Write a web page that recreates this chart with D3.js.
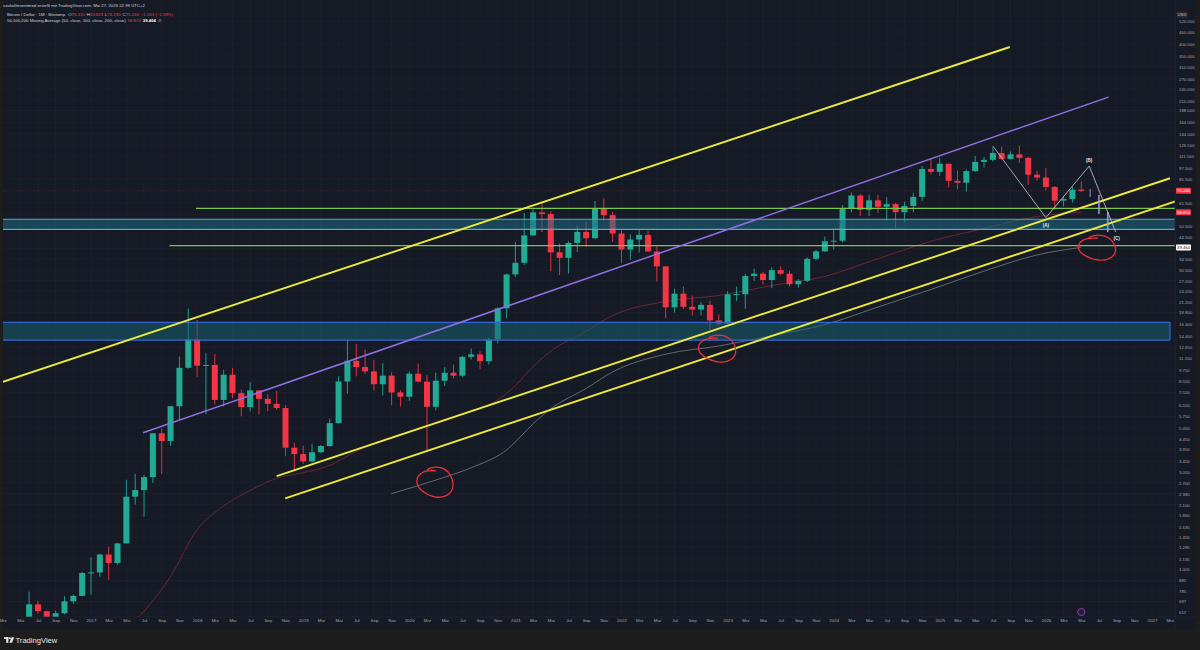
<!DOCTYPE html>
<html><head><meta charset="utf-8">
<script src="https://cdn.jsdelivr.net/npm/d3@7"></script>
<style>
html,body{margin:0;padding:0;background:#1e1e1e;}
svg{display:block;font-family:"Liberation Sans",Arial,sans-serif;}
</style></head><body>
<svg id="c" width="1200" height="650"></svg>
<script>
// ---------------- DATA ----------------
const firstYear = 2016; // first candle = Jan 2016, one candle per month
const open = [
 430,369,437,416,448,531,674,624,573,609,698,742,
 963,970,1190,1080,1350,2300,2480,2875,4740,4340,6450,10000,
 13860,10250,10330,6930,9240,7490,6390,7730,7020,6630,6320,4020,
 3740,3440,3820,4100,5320,8560,10830,10090,9600,8290,9150,7550,
 7190,9350,8540,6410,8630,9450,9140,11330,11650,10780,13800,19700,
 28990,33110,45240,58800,57720,37300,35040,41490,47100,43820,61300,57000,
 46200,38480,43180,45530,37650,31790,19930,23300,20050,19420,20490,17160,
 16530,23130,23140,28470,29250,27210,30470,29230,25940,26970,34650,37720,
 42270,42580,61130,71290,60640,67490,62690,64620,58970,63300,70200,96400,
 93400,102400,84300,82500,94200,104600,107100,115700,108200,114000,109500,90400,
 87500,78600,67200,68500,76310];
const high = [
 462,448,441,467,550,779,704,626,627,739,755,975,
 1153,1200,1300,1355,2790,2980,2950,4750,5000,6470,11400,19666,
 17250,11800,11700,9750,10000,7780,8500,7750,7410,7680,6550,4250,
 4110,4210,4140,5600,9090,13880,13150,12330,10950,10540,9510,7750,
 9580,10500,9190,9460,10080,10390,11440,12470,12070,14100,19950,29300,
 41950,58350,61780,64900,59500,41300,42300,50500,52900,67000,69000,59100,
 47990,45800,48200,47440,40000,31980,24670,25200,22800,21080,21480,18390,
 23960,25250,29200,31000,29820,31430,31800,30200,27500,35200,38400,44700,
 48970,64000,73800,72800,71950,72000,70000,65600,66500,73600,99800,108300,
 109600,102500,95000,95800,112000,110500,123200,124500,117900,126200,111000,94600,
 97500,79500,71000,79000,83823];
const low = [
 352,365,396,414,437,522,605,533,570,602,680,742,
 752,922,890,1060,1350,2100,1830,2690,2970,4110,5500,9900,
 9000,5880,6600,6430,7050,5750,6070,5880,6100,6200,3650,3120,
 3350,3380,3780,4060,5300,7450,9070,9320,7710,7300,6520,6430,
 6860,8450,3850,6150,8120,8830,8980,10990,9880,10380,13220,17600,
 28130,32300,45000,47000,30000,28800,29300,37400,39600,43300,53300,42000,
 32900,34300,37200,37600,26700,17600,18780,19520,18150,18190,15480,16260,
 16500,21400,19570,26940,25810,24800,28860,25300,24900,26560,34100,37600,
 38500,41880,59000,56500,56500,58400,53500,49000,52550,58900,66800,90500,
 89200,78200,76600,74500,93300,98200,105100,107300,107300,103500,80600,84400,
 75500,60500,63000,65800,74190];
const close = [
 369,437,416,448,531,674,624,573,609,698,742,963,
 970,1190,1080,1350,2300,2480,2875,4740,4340,6450,10000,13860,
 10250,10330,6930,9240,7490,6390,7730,7020,6630,6320,4020,3740,
 3440,3820,4100,5320,8560,10830,10090,9600,8290,9150,7550,7190,
 9350,8540,6410,8630,9450,9140,11330,11650,10780,13800,19700,28990,
 33110,45240,58800,57720,37300,35040,41490,47100,43820,61300,57000,46200,
 38480,43180,45530,37650,31790,19930,23300,20050,19420,20490,17160,16530,
 23130,23140,28470,29250,27210,30470,29230,25940,26970,34650,37720,42270,
 42580,61130,71290,60640,67490,62690,64620,58970,63300,70200,96400,93400,
 102400,84300,82500,94200,104600,107100,115700,108200,114000,109500,90400,87500,
 78600,67200,68500,76310,75246];

// moving averages, [decimal year, value]
const ma50 = [[2017.25,478],[2017.5,624],[2017.75,927],[2018.0,1580],[2018.25,2069],[2018.5,2470],[2018.75,2836],
 [2019.0,3025],[2019.25,3287],[2019.5,3862],[2019.75,4388],[2020.0,4851],[2020.25,5298],[2020.58,6088],[2020.75,6556],
 [2021.0,8151],[2021.17,10193],[2021.33,12048],[2021.67,15217],[2021.92,18196],[2022.42,21315],[2022.92,22822],
 [2023.42,25567],[2023.92,28372],[2024.42,34735],[2024.92,42350],[2025.42,48980],[2025.92,56165],[2026.33,58874]];
const ma100 = [[2019.83,2380],[2020.25,2781],[2020.58,3196],[2020.92,3928],[2021.17,5299],[2021.33,6249],[2021.67,7920],
 [2021.92,9561],[2022.42,11692],[2022.92,12829],[2023.42,14427],[2023.92,16380],[2024.42,20016],[2024.92,24453],
 [2025.42,30152],[2025.92,36257],[2026.33,39464]];

// drawings, [decimal year, price]
const yellowTop = [[2016.17,8530],[2025.66,387700]];
const yellowMid = [[2018.75,2910],[2027.17,86800]];
const yellowLow = [[2018.83,2257],[2027.22,66600]];
const purpleLine = [[2017.49,4770],[2026.59,219000]];
const greenLevels = [61600, 40300];
const greenFrom = [2017.99, 2017.74];
const bandTop = [54400, 16800];
const bandBottom = [48500, 13700];
const bandFrom = [2016.0, 2016.0];
const bandTo = [2027.3, 2027.17];
const abcPoints = [[2025.5,125400],[2026.0,55400],[2026.408,99800],[2026.658,47000]];
const abcLabels = ["(A)","(B)","(C)"];
const ghostYears = [2026.417, 2026.5, 2026.583];
const ghostHigh = [76800, 71700, 59100];
const ghostLow = [70100, 57800, 47000];
const circleCenters = [[2020.25,2703],[2022.91,12400],[2026.49,39200]];

// axes
const priceTicks = [520000,460000,400000,350000,310000,270000,240000,210000,188000,164000,144000,126500,111500,97500,85500,
 65500,50500,44500,34500,30500,27000,24000,21200,18800,16400,14400,12650,11150,9750,8550,7550,6550,5750,5050,4450,3950,
 3450,3050,2700,2380,2100,1860,1635,1455,1295,1135,1005,885,785,697,617];
const gridOnlyTicks = [75000,57500,39000];
const monthNames = ["Jan","Feb","Mrz","Apr","Mai","Jun","Jul","Aug","Sep","Okt","Nov","Dez"];
const markerValues = [75246, 58874, 39464];
const lastClose = 75246;

// ---------------- CHART ----------------
const svg = d3.select('#c');
const PL = 3, PR = 1175, PB = 617;
svg.append('rect').attr('width',1200).attr('height',650).attr('fill','#1d1d1d');
svg.append('rect').attr('x',PL).attr('y',0).attr('width',1196-PL).attr('height',629).attr('fill','#161a25');

const x = d3.scaleLinear().domain([12,132]).range([91,1152]);
const y = d3.scaleLog().domain([617,460000]).range([612.1,32]);
const xi = yr => x((yr-firstYear)*12);

svg.append('defs').append('clipPath').attr('id','plot')
  .append('rect').attr('x',PL).attr('y',0).attr('width',PR-PL).attr('height',PB);

// grid
const grid = svg.append('g').attr('clip-path','url(#plot)');
const xTickIdx = d3.range(2, 136, 2);
grid.selectAll('line.v').data(xTickIdx).join('line')
  .attr('x1',d=>x(d)).attr('x2',d=>x(d)).attr('y1',0).attr('y2',PB)
  .attr('stroke','#1f2331').attr('stroke-width',0.6);
grid.selectAll('line.h').data(priceTicks.concat(gridOnlyTicks)).join('line')
  .attr('x1',PL).attr('x2',PR).attr('y1',d=>y(d)).attr('y2',d=>y(d))
  .attr('stroke','#1f2331').attr('stroke-width',0.6);

const plot = svg.append('g').attr('clip-path','url(#plot)');

// current price line
plot.append('line').attr('x1',PL).attr('x2',PR).attr('y1',y(lastClose)).attr('y2',y(lastClose))
  .attr('stroke','#f23645').attr('stroke-opacity',0.35).attr('stroke-width',0.7).attr('stroke-dasharray','1,1.5');

// moving averages
const maLine = d3.line().x(d=>xi(d[0])).y(d=>y(d[1])).curve(d3.curveMonotoneX);
plot.append('path').attr('d',maLine(ma50)).attr('fill','none').attr('stroke','#b0303f').attr('stroke-opacity',0.6).attr('stroke-width',0.9);
plot.append('path').attr('d',maLine(ma100)).attr('fill','none').attr('stroke','#8a8d98').attr('stroke-opacity',0.75).attr('stroke-width',0.9);

// candles
const up = '#22ab94', dn = '#f23645';
const idx = d3.range(close.length);
const cg = plot.append('g');
cg.selectAll('line').data(idx).join('line')
  .attr('x1',i=>x(i)).attr('x2',i=>x(i)).attr('y1',i=>y(high[i])).attr('y2',i=>y(low[i]))
  .attr('stroke',i=>close[i]>=open[i]?up:dn).attr('stroke-width',0.9);
cg.selectAll('rect').data(idx).join('rect')
  .attr('x',i=>x(i)-3).attr('width',6)
  .attr('y',i=>y(Math.max(open[i],close[i])))
  .attr('height',i=>Math.max(1,Math.abs(y(open[i])-y(close[i]))))
  .attr('fill',i=>close[i]>=open[i]?up:dn);

// bands
for (let k=0;k<bandTop.length;k++){
  const stroke = k===0 ? '#59a9cf' : '#3566d6';
  const fill = k===0 ? '#1f6a80' : '#17606f';
  plot.append('rect').attr('x',xi(bandFrom[k])).attr('width',xi(bandTo[k])-xi(bandFrom[k]))
    .attr('y',y(bandTop[k])).attr('height',y(bandBottom[k])-y(bandTop[k]))
    .attr('fill',fill).attr('fill-opacity',0.55);
  [bandTop[k],bandBottom[k]].forEach(v=>{
    plot.append('line').attr('x1',xi(bandFrom[k])).attr('x2',xi(bandTo[k])).attr('y1',y(v)).attr('y2',y(v))
      .attr('stroke',stroke).attr('stroke-width',1.2);
  });
  if (k===1) {
    plot.append('line').attr('x1',xi(bandTo[k])).attr('x2',xi(bandTo[k])).attr('y1',y(bandTop[k])).attr('y2',y(bandBottom[k]))
      .attr('stroke',stroke).attr('stroke-width',1.2);
  }
}

// green levels
greenLevels.forEach((v,k)=>{
  plot.append('line').attr('x1',xi(greenFrom[k])).attr('x2',PR).attr('y1',y(v)).attr('y2',y(v))
    .attr('stroke','#7cc64e').attr('stroke-width',1.2);
});

// trend lines
const seg = d3.line().x(d=>xi(d[0])).y(d=>y(d[1]));
[yellowTop,yellowMid,yellowLow].forEach(l=>{
  plot.append('path').attr('d',seg(l)).attr('stroke','#ecea3a').attr('stroke-width',1.9).attr('fill','none');
});
plot.append('path').attr('d',seg(purpleLine)).attr('stroke','#8f6fe6').attr('stroke-width',1.5).attr('fill','none');

// ghost bars
ghostYears.forEach((g,k)=>{
  plot.append('line').attr('x1',xi(g)).attr('x2',xi(g)).attr('y1',y(ghostHigh[k])).attr('y2',y(ghostLow[k]))
    .attr('stroke','#9d9cf2').attr('stroke-width',k===0?1:1.6).attr('stroke-opacity',0.9);
});

// ABC wave
plot.append('path').attr('d',seg(abcPoints)).attr('stroke','#c9cbd1').attr('stroke-width',0.8).attr('fill','none');
const labOff = [8,-6,6];
abcLabels.forEach((t,k)=>{
  const p = abcPoints[k+1];
  plot.append('text').attr('x',xi(p[0])+(k===2?1:0)).attr('y',y(p[1])+labOff[k]).attr('dy','0.35em')
    .attr('text-anchor','middle').attr('font-size',4.6).attr('font-weight','bold').attr('fill','#e6e7ea').text(t);
});

// hand drawn circles
const radii = [[18,14.5],[18.5,13],[18.5,12]];
circleCenters.forEach((c,k)=>{
  const cx = xi(c[0]), cy = y(c[1]), rx = radii[k][0], ry = radii[k][1];
  const pts = [];
  for (let a=0;a<=390;a+=15){
    const t = (a-120)*Math.PI/180;
    const w = 1 + 0.07*Math.sin(a*Math.PI/70) - (a>340?0.12*(a-340)/50:0);
    pts.push([cx + rx*w*Math.cos(t), cy + ry*w*Math.sin(t)]);
  }
  plot.append('path').attr('d',d3.line().curve(d3.curveCatmullRom)(pts))
    .attr('fill','none').attr('stroke','#e8303d').attr('stroke-width',1.3);
});

// event icon
plot.append('circle').attr('cx',x(close.length-1)).attr('cy',612).attr('r',3.6)
  .attr('fill','#2a1d3a').attr('stroke','#8e44c8').attr('stroke-width',0.9);

// separators
svg.append('line').attr('x1',PR).attr('x2',PR).attr('y1',0).attr('y2',629).attr('stroke','#232734').attr('stroke-width',0.7);
svg.append('line').attr('x1',PL).attr('x2',1196).attr('y1',PB).attr('y2',PB).attr('stroke','#232734').attr('stroke-width',0.7);

// price axis
const deLocale = d3.formatLocale({decimal:",",thousands:".",grouping:[3],currency:["","$"]});
const fmtP = deLocale.format(",.0f");
const yAxis = d3.axisRight(y).tickValues(priceTicks).tickFormat(fmtP).tickSize(0).tickPadding(0);
const ya = svg.append('g').attr('transform','translate(1179,0)').call(yAxis);
ya.select('.domain').remove();
ya.selectAll('text').attr('font-size',4.3).attr('fill','#a4a7b0').attr('font-family','"Liberation Sans",Arial,sans-serif');

// USD box
svg.append('rect').attr('x',1176.5).attr('y',11.5).attr('width',11).attr('height',6.5).attr('rx',1).attr('fill','#262a35');
svg.append('text').attr('x',1182).attr('y',14.8).attr('dy','0.35em').attr('text-anchor','middle')
  .attr('font-size',4.2).attr('fill','#c3c6ce').text('USD');

// value markers
const mBg = ['#f23645','#f23645','#ffffff'], mFg = ['#ffffff','#ffffff','#131722'];
markerValues.forEach((v,k)=>{
  svg.append('rect').attr('x',1176).attr('y',y(v)-3).attr('width',15).attr('height',6).attr('rx',0.8).attr('fill',mBg[k]);
  svg.append('text').attr('x',1183.5).attr('y',y(v)).attr('dy','0.35em').attr('text-anchor','middle')
    .attr('font-size',4.2).attr('fill',mFg[k]).text(fmtP(v));
});

// time axis
const xAxis = d3.axisBottom(x).tickValues(xTickIdx)
  .tickFormat(i => i%12===0 ? String(firstYear + i/12) : monthNames[i%12]).tickSize(0).tickPadding(0);
const xa = svg.append('g').attr('transform','translate(0,622)').call(xAxis);
xa.select('.domain').remove();
xa.selectAll('text').attr('font-size',4.4).attr('fill','#a4a7b0').attr('dy','0.1em').attr('font-family','"Liberation Sans",Arial,sans-serif');

// header
const hdr = svg.append('g').attr('font-size',4.3);
hdr.append('text').attr('x',3).attr('y',6.5).attr('fill','#d1d4dc')
  .text('szokoliteventmed erstellt mit TradingView.com, Mai 27, 2026 22:39 UTC+2');
const l2 = hdr.append('text').attr('x',7).attr('y',15.5).attr('fill','#d1d4dc');
l2.append('tspan').text('Bitcoin / Dollar · 1M · Bitstamp ');
[['O','76.310'],['H','83.823'],['L','74.190'],['C','75.246']].forEach(p=>{
  l2.append('tspan').attr('dx',2).attr('fill','#d1d4dc').text(p[0]);
  l2.append('tspan').attr('fill','#f23645').text(p[1]);
});
l2.append('tspan').attr('dx',2).attr('fill','#f23645').text('−1.063 (−1.39%)');
const l3 = hdr.append('text').attr('x',7).attr('y',21.5).attr('fill','#d1d4dc');
l3.append('tspan').text('50,100,200 Moving Average (50, close, 100, close, 200, close)');
l3.append('tspan').attr('dx',2).attr('fill','#f23645').text('58.874');
l3.append('tspan').attr('dx',2).attr('fill','#ffffff').attr('font-weight','bold').text('39.464');
l3.append('tspan').attr('dx',2).attr('fill','#d1d4dc').text('∅');

// TradingView logo
const lg = svg.append('g').attr('fill','#e6e7ea');
lg.append('rect').attr('x',4).attr('y',637.2).attr('width',4.4).attr('height',1.8);
lg.append('rect').attr('x',6.2).attr('y',637.2).attr('width',2.2).attr('height',5.6);
lg.append('circle').attr('cx',9.9).attr('cy',638.2).attr('r',1);
lg.append('path').attr('d','M11.6,637.2 L14.2,637.2 L12,642.8 L9.4,642.8 Z');
lg.append('text').attr('x',15.5).attr('y',642.8).attr('font-size',7.6).attr('font-weight','500').text('TradingView');
</script></body></html>
